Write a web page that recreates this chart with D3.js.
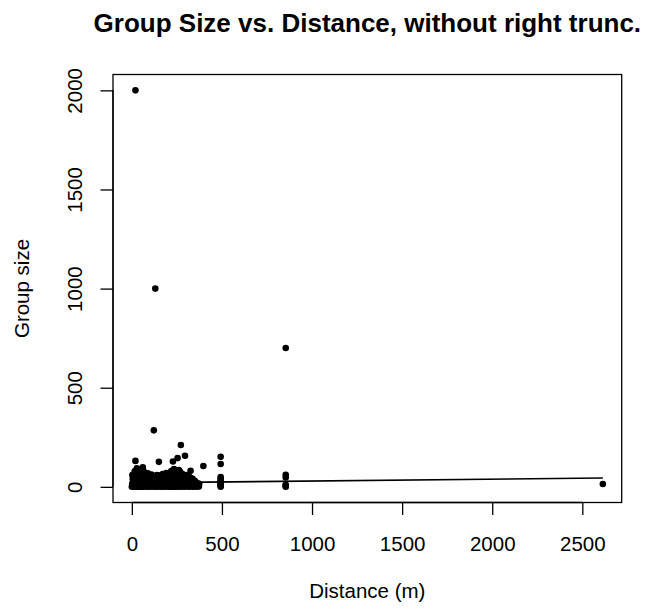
<!DOCTYPE html>
<html>
<head>
<meta charset="utf-8">
<script src="https://cdn.jsdelivr.net/npm/d3@7/dist/d3.min.js"></script>
<style>
  html, body { margin: 0; padding: 0; background: #fff; }
  svg { display: block; }
  text { font-family: "Liberation Sans", Arial, Helvetica, sans-serif; fill: #000; }
</style>
</head>
<body>
<div id="chart"></div>
<script>
// ---- Data ----
const title = "Group Size vs. Distance, without right trunc.";
const xLabel = "Distance (m)";
const yLabel = "Group size";
const xTicks = [0, 500, 1000, 1500, 2000, 2500];
const yTicks = [0, 500, 1000, 1500, 2000];

const distance = [
  0, 4, 7, 2, 9, 5, 3,
  12, 14, 10, 15, 11, 13, 16,
  20, 20, 18, 22, 19, 24, 21, 17,
  27, 29, 26, 31, 28, 30,
  34, 37, 33, 36, 35,
  44, 46, 42, 47, 45, 43,
  54, 57, 52, 55, 56,
  61, 60, 63, 59, 62,
  70, 72, 68, 71, 69,
  80, 78, 82, 79, 81,
  90, 92, 88, 91, 89,
  100, 98, 102, 101, 99,
  110, 112, 108, 111, 109,
  122, 120, 124, 121, 123, 119,
  130, 132, 128, 131, 129,
  140, 142, 138, 141, 139,
  150, 148, 152, 149, 151,
  160, 162, 158, 161, 159,
  170, 168, 172, 169, 171,
  180, 182, 178, 181, 179,
  190, 188, 192, 189, 191,
  200, 202, 198, 201, 199,
  210, 208, 212, 209, 211,
  220, 222, 218, 221, 219,
  228, 230, 226, 229, 227,
  235, 237, 233, 236, 234,
  245, 243, 247, 244, 246,
  254, 252, 256, 253, 255, 251,
  262, 264, 260, 263, 261,
  272, 270, 274, 271, 273, 269,
  282, 284, 280, 283, 281,
  295, 293, 297, 294, 296,
  305, 307, 303, 306, 304,
  315, 313, 317, 314, 316,
  326, 324, 328, 325, 327,
  338, 336, 340, 337,
  350, 348, 352, 349,
  362, 360, 364, 361,
  372, 370, 374,
  397,
  493, 493, 493, 493, 493, 493, 493, 493, 493, 493, 493,
  854, 854, 854, 854, 854, 854,
  2614
];

const groupSize = [
  1, 3, 8, 15, 25, 40, 60,
  2, 6, 12, 20, 35, 50, 75,
  2000, 131, 1, 4, 10, 22, 45, 80,
  1, 5, 14, 30, 93, 55,
  2, 7, 18, 40, 65,
  1, 3, 9, 25, 50, 70,
  2, 6, 12, 30, 45,
  98, 1, 8, 20, 60,
  3, 10, 25, 40, 75,
  1, 5, 15, 35, 55,
  2, 8, 20, 45, 68,
  1, 4, 12, 30, 50,
  3, 9, 22, 40, 62,
  285, 1, 6, 15, 35, 55,
  1000, 2, 10, 25, 45,
  1, 7, 18, 38, 60,
  126, 3, 12, 28, 50,
  1, 5, 15, 35, 58,
  2, 9, 22, 42, 65,
  1, 6, 17, 30, 52,
  3, 11, 25, 45, 70,
  1, 4, 14, 32, 55,
  2, 8, 20, 40, 62,
  1, 6, 16, 35, 80,
  128, 3, 12, 28, 50,
  1, 7, 20, 42, 90,
  2, 10, 25, 48, 70,
  145, 1, 5, 18, 36, 60,
  3, 12, 30, 55, 85,
  211, 1, 8, 22, 45, 75,
  2, 6, 16, 38, 65,
  157, 1, 10, 28, 50,
  3, 8, 20, 42, 60,
  1, 5, 15, 35, 55,
  81, 2, 10, 25, 45,
  1, 6, 18, 40,
  2, 8, 22, 30,
  1, 5, 12, 20,
  2, 6, 15,
  105,
  1, 5, 10, 15, 20, 25, 30, 40, 50, 115, 152,
  1, 5, 10, 47, 61, 700,
  14
];

// fitted regression line (end points)
const fitDistance = [0, 2614];
const fitGroupSize = [20, 44.8];

// ---- Layout ----
const W = 661, H = 612;
const plot = { left: 113, right: 621.7, top: 74.5, bottom: 502.5 };

const svg = d3.select("#chart").append("svg")
  .attr("width", W).attr("height", H);

function padded(ext) {
  const r = ext[1] - ext[0];
  return [ext[0] - 0.04 * r, ext[1] + 0.04 * r];
}

const x = d3.scaleLinear()
  .domain(padded(d3.extent(distance)))
  .range([plot.left, plot.right]);
const y = d3.scaleLinear()
  .domain(padded(d3.extent(groupSize)))
  .range([plot.bottom, plot.top]);

const points = distance.map((d, i) => ({ d, g: groupSize[i] }));

// points
svg.append("g").selectAll("circle")
  .data(points)
  .join("circle")
  .attr("cx", p => x(p.d))
  .attr("cy", p => y(p.g))
  .attr("r", 3.3)
  .attr("fill", "#000");

// fitted line
const fit = fitDistance.map((d, i) => [d, fitGroupSize[i]]);
svg.append("path")
  .datum(fit)
  .attr("d", d3.line().x(p => x(p[0])).y(p => y(p[1])))
  .attr("fill", "none")
  .attr("stroke", "#000")
  .attr("stroke-width", 1.6);

// box
svg.append("rect")
  .attr("x", plot.left).attr("y", plot.top)
  .attr("width", plot.right - plot.left)
  .attr("height", plot.bottom - plot.top)
  .attr("fill", "none").attr("stroke", "#000").attr("stroke-width", 1.3);

const tickLen = 12.5;
const fontSize = 20.5;

// x axis
const xAxis = d3.axisBottom(x).tickValues(xTicks).tickSize(tickLen).tickFormat(d3.format("d"));
const gx = svg.append("g").attr("transform", `translate(0,${plot.bottom})`).call(xAxis);
gx.select(".domain")
  .attr("d", `M${x(xTicks[0])},0H${x(xTicks[xTicks.length - 1])}`)
  .attr("stroke-width", 1.3);
gx.selectAll(".tick line").attr("stroke-width", 1.3);
gx.selectAll(".tick text")
  .attr("y", 48).attr("dy", null)
  .style("font-size", fontSize + "px")
  .style("font-family", "'Liberation Sans', Arial, sans-serif")
  .attr("fill", "#000");

// y axis
const yAxis = d3.axisLeft(y).tickValues(yTicks).tickSize(tickLen).tickFormat(d3.format("d"));
const gy = svg.append("g").attr("transform", `translate(${plot.left},0)`).call(yAxis);
gy.select(".domain")
  .attr("d", `M0,${y(yTicks[0])}V${y(yTicks[yTicks.length - 1])}`)
  .attr("stroke-width", 1.3);
gy.selectAll(".tick line").attr("stroke-width", 1.3);
gy.selectAll(".tick text")
  .attr("x", null).attr("dy", null)
  .attr("transform", "translate(-31,0) rotate(-90)")
  .attr("text-anchor", "middle")
  .style("font-size", fontSize + "px")
  .style("font-family", "'Liberation Sans', Arial, sans-serif")
  .attr("fill", "#000");

// title
const cx = (plot.left + plot.right) / 2;
svg.append("text")
  .attr("x", cx).attr("y", 32)
  .attr("text-anchor", "middle")
  .style("font-size", "26px")
  .style("font-weight", "bold")
  .text(title);

// axis titles
svg.append("text")
  .attr("x", cx).attr("y", 598)
  .attr("text-anchor", "middle")
  .style("font-size", fontSize + "px")
  .text(xLabel);

svg.append("text")
  .attr("transform", `translate(28.5,${(plot.top + plot.bottom) / 2}) rotate(-90)`)
  .attr("text-anchor", "middle")
  .style("font-size", fontSize + "px")
  .text(yLabel);
</script>
</body>
</html>
